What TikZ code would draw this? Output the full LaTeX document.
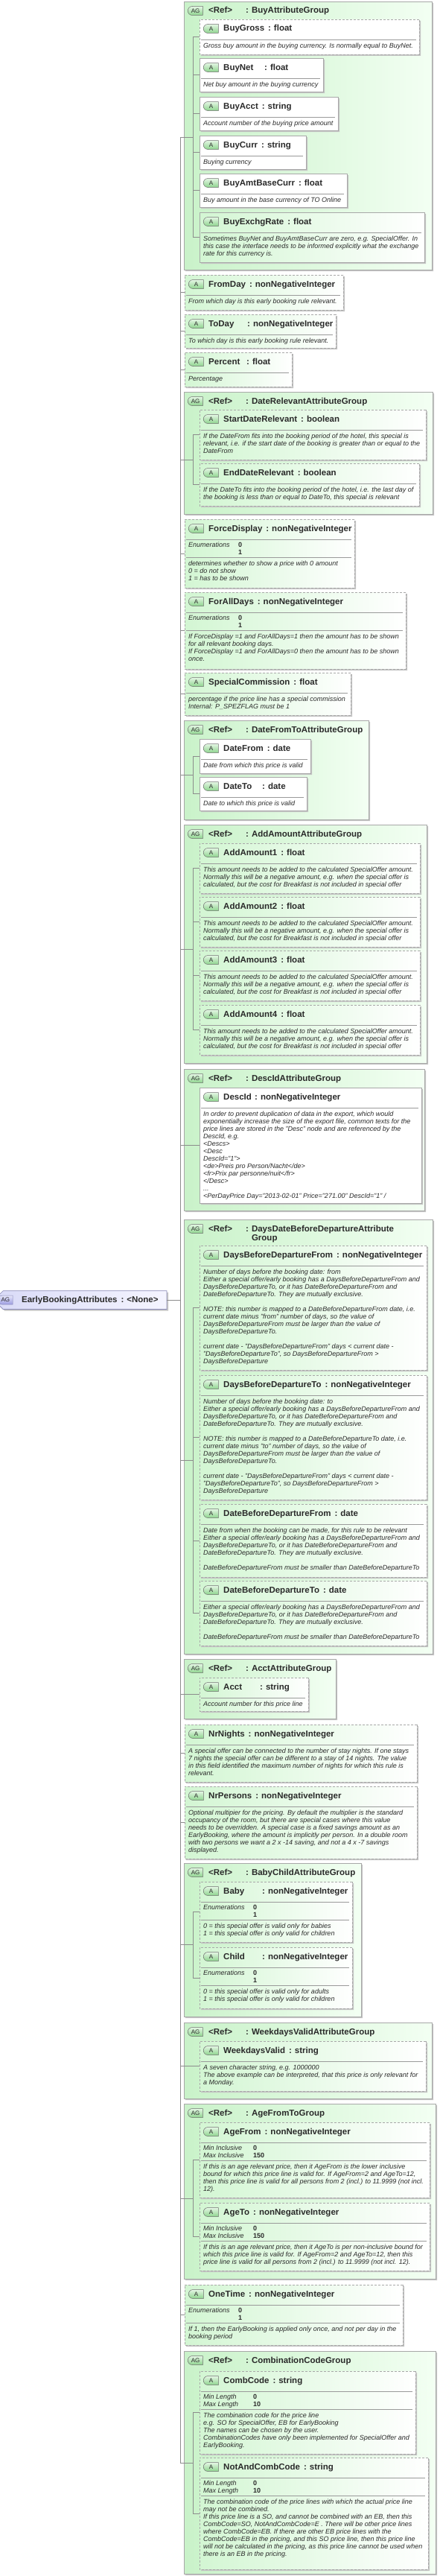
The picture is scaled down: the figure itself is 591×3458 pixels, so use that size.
\documentclass[tikz,border=0pt]{standalone}
\usepackage{fontspec}
\setmainfont{Liberation Sans}
\usetikzlibrary{shapes.misc,shadows,calc}

\definecolor{xsborder}{HTML}{A8A8A8}
\definecolor{xsshadow}{HTML}{C4C4C4}
\definecolor{xssep}{HTML}{9A9A9A}
\definecolor{xsconn}{HTML}{8C8C8C}
\definecolor{xstext}{HTML}{2A2A2A}
\definecolor{agleft}{HTML}{C9F2C9}
\definecolor{agright}{HTML}{F3FFF3}
\definecolor{attrleft}{HTML}{D3F6D3}
\definecolor{badgetop}{HTML}{E4F6E4}
\definecolor{badgebot}{HTML}{8ED48E}
\definecolor{badgeborder}{HTML}{6E6E6E}
\definecolor{rootleft}{HTML}{D9DAF7}
\definecolor{rootright}{HTML}{F5F5FF}
\definecolor{rootborder}{HTML}{8A8AB8}
\definecolor{rootbadgetop}{HTML}{E6E6FA}
\definecolor{rootbadgebot}{HTML}{9C9CE0}

\newcommand{\titlefont}{\fontsize{11.5}{13}\selectfont\bfseries}
\newcommand{\descfont}{\fontsize{9}{10}\selectfont\itshape}
% name : type
\newcommand{\attname}[2]{#1\hspace{5pt}:\hspace{4pt}#2}
% name in a column of given width : type
\newcommand{\attnamew}[3]{\makebox[#1pt][l]{#2}:\hspace{4pt}#3}

\tikzset{
  boxbase/.style={chamfered rectangle, chamfered rectangle corners={north west,south west},
    draw=xsborder, line width=0.6pt, inner sep=0pt, outer sep=0pt,
    drop shadow={shadow xshift=2pt, shadow yshift=-2pt, fill=xsshadow, opacity=1}},
  agbox/.style={boxbase, chamfered rectangle xsep=9pt, chamfered rectangle ysep=9pt,
    left color=agleft, right color=agright},
  attrbox/.style={boxbase, chamfered rectangle xsep=6pt, chamfered rectangle ysep=6pt,
    left color=attrleft, right color=white},
  plainbox/.style={left color=white, right color=white},
  optbox/.style={dash pattern=on 3pt off 2pt},
  rootbox/.style={boxbase, chamfered rectangle xsep=7pt, chamfered rectangle ysep=7pt,
    left color=rootleft, right color=rootright, draw=rootborder, inner xsep=6pt,
    minimum height=22pt, font=\titlefont, text=xstext},
  badge/.style={rounded rectangle, rounded rectangle right arc=none, draw=badgeborder,
    line width=0.5pt, top color=badgetop, bottom color=badgebot, minimum width=20pt,
    minimum height=12pt, inner sep=0pt, anchor=west, font=\fontsize{8}{8}\selectfont, text=xstext},
  rootbadge/.style={badge, top color=rootbadgetop, bottom color=rootbadgebot, draw=rootborder},
  titletext/.style={anchor=base west, inner sep=0pt, font=\titlefont, text=xstext},
  desctext/.style={anchor=north west, align=left, inner sep=0pt, font=\descfont, text=xstext},
  facetval/.style={anchor=north west, align=left, inner sep=0pt,
    font=\fontsize{9}{10}\selectfont\bfseries, text=xstext},
  sepline/.style={draw=xssep, line width=0.6pt},
  conn/.style={draw=xsconn, line width=0.6pt},
}

% attribute box: id, left, top, right, bottom, style, title
\newcommand{\attrnode}[7]{%
  \node[attrbox,#6,minimum width={#4-#2},minimum height={#5-#3}] (#1) at ({(#2+#4)/2},{(#3+#5)/2}) {};
  \node[badge] (#1-b) at ({#2+5},{#3+12.5}) {A};
  \node[titletext] (#1-t) at ({#2+32},{#3+16}) {#7};
  \draw[sepline] ({#2+2},{#3+27}) -- ({#4-4},{#3+27});
}
% description text: id, offset from top, lines
\newcommand{\attrdesc}[3]{%
  \node[desctext] (#1-d) at ($(#1.west |- #1.north)+(5,#2)$) {\strut #3};
}
% facets: id, labels, values
\newcommand{\attrfacet}[3]{%
  \node[desctext] (#1-fl) at ($(#1.west |- #1.north)+(5,30)$) {\strut #2};
  \node[facetval] (#1-fv) at ($(#1.west |- #1.north)+(72,30)$) {\strut #3};
  \draw[sepline] ($(#1.west |- #1.north)+(2,51)$) -- ($(#1.east |- #1.north)+(-4,51)$);
}
% attribute group: id, left, top, right, bottom, name
\newcommand{\agnode}[6]{%
  \node[agbox,minimum width={#4-#2},minimum height={#5-#3}] (#1) at ({(#2+#4)/2},{(#3+#5)/2}) {};
  \node[badge] (#1-b) at ({#2+5},{#3+12.5}) {AG};
  \node[titletext] (#1-r) at ({#2+33},{#3+16}) {<Ref>};
  \node[titletext] (#1-t) at ({#2+83},{#3+16}) {:\hspace{4pt}#6};
}
% inner tree of a group: id, first child, last child
\newcommand{\agconn}[3]{%
  \coordinate (#1-j1) at (innerx |- #2.west);
  \coordinate (#1-j2) at (innerx |- #3.west);
  \coordinate (#1-m) at ($(#1-j1)!0.5!(#1-j2)$);
  \draw[conn] (#1-j1) -- (#1-j2);
  \draw[conn] (spinex |- #1-m) -- (#1-m);
}

\begin{document}
\begin{tikzpicture}[x=1pt,y=-1pt]
\useasboundingbox (0,0) rectangle (591,3458);
\coordinate (spinex) at (242,0);
\coordinate (innerx) at (259,0);

%%%%%%%%%%
% BuyAttributeGroup
%%%%%%%%%%
\agnode{ag1}{247}{2}{580}{362}{BuyAttributeGroup}
\attrnode{buygross}{268}{26}{563}{73}{optbox,plainbox}{\attname{BuyGross}{float}}
\attrdesc{buygross}{31}{Gross buy amount in the buying currency. Is normally equal to BuyNet.}
\attrnode{buynet}{268}{78}{434}{123}{plainbox}{\attnamew{55}{BuyNet}{float}}
\attrdesc{buynet}{31}{Net buy amount in the buying currency}
\attrnode{buyacct}{268}{130}{454}{175}{plainbox}{\attname{BuyAcct}{string}}
\attrdesc{buyacct}{31}{Account number of the buying price amount}
\attrnode{buycurr}{268}{182}{411}{227}{plainbox}{\attname{BuyCurr}{string}}
\attrdesc{buycurr}{31}{Buying currency}
\attrnode{buyamt}{268}{233}{466}{278}{plainbox}{\attname{BuyAmtBaseCurr}{float}}
\attrdesc{buyamt}{31}{Buy amount in the base currency of TO Online}
\attrnode{buyexchg}{268}{285}{570}{352}{}{\attname{BuyExchgRate}{float}}
\attrdesc{buyexchg}{31}{Sometimes BuyNet and BuyAmtBaseCurr are zero, e.g. SpecialOffer. In\\this case the interface needs to be informed explicitly what the exchange\\rate for this currency is.}

%%%%%%%%%%
% Single attributes
%%%%%%%%%%
\attrnode{fromday}{248}{369}{461}{416}{optbox}{\attname{FromDay}{nonNegativeInteger}}
\attrdesc{fromday}{31}{From which day is this early booking rule relevant.}
\attrnode{today}{248}{422}{451}{467}{optbox}{\attnamew{52}{ToDay}{nonNegativeInteger}}
\attrdesc{today}{31}{To which day is this early booking rule relevant.}
\attrnode{percent}{248}{473}{392}{519}{optbox}{\attnamew{51}{Percent}{float}}
\attrdesc{percent}{31}{Percentage}

%%%%%%%%%%
% DateRelevantAttributeGroup
%%%%%%%%%%
\agnode{ag2}{247}{526}{581}{690}{DateRelevantAttributeGroup}
\attrnode{startdate}{268}{550}{572}{617}{optbox}{\attname{StartDateRelevant}{boolean}}
\attrdesc{startdate}{31}{If the DateFrom fits into the booking period of the hotel, this special is\\relevant, i.e. if the start date of the booking is greater than or equal to the\\DateFrom}
\attrnode{enddate}{268}{622}{563}{679}{optbox}{\attname{EndDateRelevant}{boolean}}
\attrdesc{enddate}{31}{If the DateTo fits into the booking period of the hotel, i.e. the last day of\\the booking is less than or equal to DateTo, this special is relevant}

\attrnode{forcedisplay}{248}{697}{476}{789}{optbox}{\attname{ForceDisplay}{nonNegativeInteger}}
\attrfacet{forcedisplay}{Enumerations}{0\\1}
\attrdesc{forcedisplay}{55}{determines whether to show a price with 0 amount\\0 = do not show\\1 = has to be shown}
\attrnode{foralldays}{248}{795}{545}{898}{optbox}{\attname{ForAllDays}{nonNegativeInteger}}
\attrfacet{foralldays}{Enumerations}{0\\1}
\attrdesc{foralldays}{55}{If ForceDisplay =1 and ForAllDays=1 then the amount has to be shown\\for all relevant booking days.\\If ForceDisplay =1 and ForAllDays=0 then the amount has to be shown\\once.}
\attrnode{specialcomm}{248}{903}{471}{960}{optbox}{\attname{SpecialCommission}{float}}
\attrdesc{specialcomm}{31}{percentage if the price line has a special commission\\Internal: P\_SPEZFLAG must be 1}

%%%%%%%%%%
% DateFromToAttributeGroup
%%%%%%%%%%
\agnode{ag3}{247}{967}{495}{1100}{DateFromToAttributeGroup}
\attrnode{datefrom}{268}{992}{417}{1038}{plainbox}{\attname{DateFrom}{date}}
\attrdesc{datefrom}{31}{Date from which this price is valid}
\attrnode{dateto}{268}{1043}{412}{1088}{plainbox}{\attnamew{52}{DateTo}{date}}
\attrdesc{dateto}{31}{Date to which this price is valid}

%%%%%%%%%%
% AddAmountAttributeGroup
%%%%%%%%%%
\agnode{ag4}{247}{1107}{573}{1427}{AddAmountAttributeGroup}
\foreach \i/\y in {1/1132,2/1204,3/1276,4/1349} {
  \attrnode{addamount\i}{268}{\y}{564}{\y+67}{optbox}{\attname{AddAmount\i}{float}}
  \attrdesc{addamount\i}{31}{This amount needs to be added to the calculated SpecialOffer amount.\\Normally this will be a negative amount, e.g. when the special offer is\\calculated, but the cost for Breakfast is not included in special offer}
}

%%%%%%%%%%
% DescIdAttributeGroup
%%%%%%%%%%
\agnode{ag5}{247}{1435}{570}{1625}{DescIdAttributeGroup}
\attrnode{descid}{268}{1460}{566}{1615}{plainbox}{\attnamew{42}{DescId}{nonNegativeInteger}}
\attrdesc{descid}{31}{In order to prevent duplication of data in the export, which would\\exponentially increase the size of the export file, common texts for the\\price lines are stored in the "Desc" node and are referenced by the\\DescId, e.g.\\<Descs>\\<Desc\\DescId="1">\\<de>Preis pro Person/Nacht</de>\\<fr>Prix par personne/nuit</fr>\\</Desc>\\...\\<PerDayPrice Day="2013-02-01" Price="271.00" DescId="1" /}

%%%%%%%%%%
% DaysDateBeforeDepartureAttributeGroup
%%%%%%%%%%
\agnode{ag6}{247}{1637}{581}{2220}{DaysDateBeforeDepartureAttribute}
\node[titletext] (ag6-t2) at ($(ag6-t.base west)+(0,12)$) {\phantom{:}\hspace{4pt}Group};
\attrnode{daysfrom}{268}{1672}{573}{1839}{optbox}{\attname{DaysBeforeDepartureFrom}{nonNegativeInteger}}
\attrdesc{daysfrom}{31}{Number of days before the booking date: from\\Either a special offer/early booking has a DaysBeforeDepartureFrom and\\DaysBeforeDepartureTo, or it has DateBeforeDepartureFrom and\\DateBeforeDepartureTo. They are mutually exclusive.\\\mbox{}\\NOTE: this number is mapped to a DateBeforeDepartureFrom date, i.e.\\current date minus "from" number of days, so the value of\\DaysBeforeDepartureFrom must be larger than the value of\\DaysBeforeDepartureTo.\\\mbox{}\\current date - "DaysBeforeDepartureFrom" days < current date -\\"DaysBeforeDepartureTo", so DaysBeforeDepartureFrom >\\DaysBeforeDeparture}
\attrnode{daysto}{268}{1846}{573}{2013}{optbox}{\attname{DaysBeforeDepartureTo}{nonNegativeInteger}}
\attrdesc{daysto}{31}{Number of days before the booking date: to\\Either a special offer/early booking has a DaysBeforeDepartureFrom and\\DaysBeforeDepartureTo, or it has DateBeforeDepartureFrom and\\DateBeforeDepartureTo. They are mutually exclusive.\\\mbox{}\\NOTE: this number is mapped to a DateBeforeDepartureTo date, i.e.\\current date minus "to" number of days, so the value of\\DaysBeforeDepartureFrom must be larger than the value of\\DaysBeforeDepartureTo.\\\mbox{}\\current date - "DaysBeforeDepartureFrom" days < current date -\\"DaysBeforeDepartureTo", so DaysBeforeDepartureFrom >\\DaysBeforeDeparture}
\attrnode{datebdfrom}{268}{2019}{573}{2117}{optbox}{\attname{DateBeforeDepartureFrom}{date}}
\attrdesc{datebdfrom}{31}{Date from when the booking can be made, for this rule to be relevant\\Either a special offer/early booking has a DaysBeforeDepartureFrom and\\DaysBeforeDepartureTo, or it has DateBeforeDepartureFrom and\\DateBeforeDepartureTo. They are mutually exclusive.\\\mbox{}\\DateBeforeDepartureFrom must be smaller than DateBeforeDepartureTo}
\attrnode{datebdto}{268}{2122}{573}{2209}{optbox}{\attname{DateBeforeDepartureTo}{date}}
\attrdesc{datebdto}{31}{Either a special offer/early booking has a DaysBeforeDepartureFrom and\\DaysBeforeDepartureTo, or it has DateBeforeDepartureFrom and\\DateBeforeDepartureTo. They are mutually exclusive.\\\mbox{}\\DateBeforeDepartureFrom must be smaller than DateBeforeDepartureTo}

%%%%%%%%%%
% AcctAttributeGroup
%%%%%%%%%%
\agnode{ag7}{247}{2227}{451}{2307}{AcctAttributeGroup}
\attrnode{acct}{268}{2252}{414}{2297}{optbox}{\attnamew{49}{Acct}{string}}
\attrdesc{acct}{31}{Account number for this price line}

\attrnode{nrnights}{248}{2315}{560}{2392}{optbox}{\attname{NrNights}{nonNegativeInteger}}
\attrdesc{nrnights}{31}{A special offer can be connected to the number of stay nights. If one stays\\7 nights the special offer can be different to a stay of 14 nights. The value\\in this field identified the maximum number of nights for which this rule is\\relevant.}
\attrnode{nrpersons}{248}{2398}{560}{2495}{optbox}{\attname{NrPersons}{nonNegativeInteger}}
\attrdesc{nrpersons}{31}{Optional multipier for the pricing. By default the multiplier is the standard\\occupancy of the room, but there are special cases where this value\\needs to be overridden. A special case is a fixed savings amount as an\\EarlyBooking, where the amount is implicitly per person. In a double room\\with two persons we want a 2 x -14 saving, and not a 4 x -7 savings\\displayed.}

%%%%%%%%%%
% BabyChildAttributeGroup
%%%%%%%%%%
\agnode{ag8}{247}{2501}{485}{2707}{BabyChildAttributeGroup}
\attrnode{baby}{268}{2526}{473}{2607}{optbox}{\attnamew{52}{Baby}{nonNegativeInteger}}
\attrfacet{baby}{Enumerations}{0\\1}
\attrdesc{baby}{55}{0 = this special offer is valid only for babies\\1 = this special offer is only valid for children}
\attrnode{child}{268}{2614}{473}{2696}{optbox}{\attnamew{52}{Child}{nonNegativeInteger}}
\attrfacet{child}{Enumerations}{0\\1}
\attrdesc{child}{55}{0 = this special offer is valid only for adults\\1 = this special offer is only valid for children}

%%%%%%%%%%
% WeekdaysValidAttributeGroup
%%%%%%%%%%
\agnode{ag9}{247}{2715}{580}{2817}{WeekdaysValidAttributeGroup}
\attrnode{weekdays}{268}{2740}{572}{2807}{optbox}{\attname{WeekdaysValid}{string}}
\attrdesc{weekdays}{31}{A seven character string, e.g. 1000000\\The above example can be interpreted, that this price is only relevant for\\a Monday.}

%%%%%%%%%%
% AgeFromToGroup
%%%%%%%%%%
\agnode{ag10}{247}{2824}{585}{3059}{AgeFromToGroup}
\attrnode{agefrom}{268}{2849}{577}{2950}{optbox}{\attname{AgeFrom}{nonNegativeInteger}}
\attrfacet{agefrom}{Min Inclusive\\Max Inclusive}{0\\150}
\attrdesc{agefrom}{55}{If this is an age relevant price, then it AgeFrom is the lower inclusive\\bound for which this price line is valid for. If AgeFrom=2 and AgeTo=12,\\then this price line is valid for all persons from 2 (incl.) to 11.9999 (not incl.\\12).}
\attrnode{ageto}{268}{2957}{577}{3048}{optbox}{\attnamew{40}{AgeTo}{nonNegativeInteger}}
\attrfacet{ageto}{Min Inclusive\\Max Inclusive}{0\\150}
\attrdesc{ageto}{55}{If this is an age relevant price, then it AgeTo is per non-inclusive bound for\\which this price line is valid for. If AgeFrom=2 and AgeTo=12, then this\\price line is valid for all persons from 2 (incl.) to 11.9999 (not incl. 12).}

\attrnode{onetime}{248}{3067}{541}{3148}{optbox}{\attname{OneTime}{nonNegativeInteger}}
\attrfacet{onetime}{Enumerations}{0\\1}
\attrdesc{onetime}{55}{If 1, then the EarlyBooking is applied only once, and not per day in the\\booking period}

%%%%%%%%%%
% CombinationCodeGroup
%%%%%%%%%%
\agnode{ag11}{247}{3156}{585}{3455}{CombinationCodeGroup}
\attrnode{combcode}{268}{3183}{558}{3294}{optbox}{\attname{CombCode}{string}}
\attrfacet{combcode}{Min Length\\Max Length}{0\\10}
\attrdesc{combcode}{55}{The combination code for the price line\\e.g. SO for SpecialOffer, EB for EarlyBooking\\The names can be chosen by the user.\\CombinationCodes have only been implemented for SpecialOffer and\\EarlyBooking.}
\attrnode{notandcomb}{268}{3299}{575}{3449}{optbox}{\attname{NotAndCombCode}{string}}
\attrfacet{notandcomb}{Min Length\\Max Length}{0\\10}
\attrdesc{notandcomb}{55}{The combination code of the price lines with which the actual price line\\may not be combined.\\If this price line is a SO, and cannot be combined with an EB, then this\\CombCode=SO, NotAndCombCode=E . There will be other price lines\\where CombCode=EB. If there are other EB price lines with the\\CombCode=EB in the pricing, and this SO price line, then this price line\\will not be calculated in the pricing, as this price line cannot be used when\\there is an EB in the pricing.}

%%%%%%%%%%
% Connectors
%%%%%%%%%%
\agconn{ag1}{buygross}{buyexchg}
\agconn{ag2}{startdate}{enddate}
\agconn{ag3}{datefrom}{dateto}
\agconn{ag4}{addamount1}{addamount4}
\agconn{ag6}{daysfrom}{datebdto}
\agconn{ag8}{baby}{child}
\agconn{ag10}{agefrom}{ageto}
\agconn{ag11}{combcode}{notandcomb}
\foreach \c in {buygross,buynet,buyacct,buycurr,buyamt,buyexchg,startdate,enddate,
  datefrom,dateto,addamount1,addamount2,addamount3,addamount4,daysfrom,daysto,
  datebdfrom,datebdto,baby,child,agefrom,ageto,combcode,notandcomb}
  \draw[conn] (innerx |- \c.west) -- (\c.west);
\foreach \c in {fromday,today,percent,forcedisplay,foralldays,specialcomm,
  descid,acct,nrnights,nrpersons,weekdays,onetime}
  \draw[conn] (spinex |- \c.west) -- (\c.west);
\draw[conn] (spinex |- ag1-m) -- (spinex |- ag11-m);

% root attribute group
\coordinate (spinemid) at ($(spinex |- ag1-m)!0.5!(spinex |- ag11-m)$);
\node[rootbox, anchor=east] (root) at ([xshift=-18pt]spinemid) {\hspace*{26pt}\attname{EarlyBookingAttributes}{<None>}};
\node[rootbadge] (root-b) at ([xshift=5pt]root.west) {AG};
\draw[conn] (root.east) -- (spinemid);

\end{tikzpicture}
\end{document}
